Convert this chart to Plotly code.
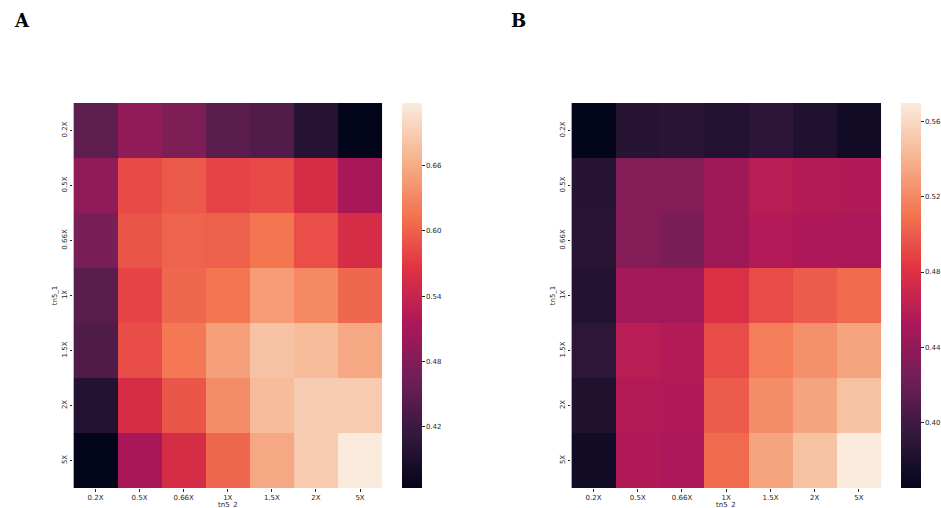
import plotly.graph_objects as go

# Tn5 dilution levels for the two transposase preparations
tn5_2_levels = ["0.2X", "0.5X", "0.66X", "1X", "1.5X", "2X", "5X"]
tn5_1_levels = ["0.2X", "0.5X", "0.66X", "1X", "1.5X", "2X", "5X"]

# Panel A scores (rows: tn5_1, columns: tn5_2)
scores_a = [
    [0.449, 0.491, 0.477, 0.446, 0.438, 0.399, 0.364],
    [0.491, 0.584, 0.594, 0.578, 0.584, 0.555, 0.511],
    [0.473, 0.591, 0.602, 0.600, 0.616, 0.587, 0.555],
    [0.444, 0.578, 0.605, 0.616, 0.647, 0.632, 0.605],
    [0.437, 0.585, 0.618, 0.650, 0.680, 0.674, 0.657],
    [0.396, 0.555, 0.591, 0.634, 0.674, 0.689, 0.688],
    [0.364, 0.511, 0.555, 0.605, 0.657, 0.688, 0.717],
]

# Panel B scores (rows: tn5_1, columns: tn5_2)
scores_b = [
    [0.365, 0.386, 0.388, 0.383, 0.389, 0.3825, 0.374],
    [0.386, 0.433, 0.433, 0.446, 0.459, 0.457, 0.455],
    [0.387, 0.433, 0.429, 0.446, 0.456, 0.454, 0.452],
    [0.384, 0.448, 0.448, 0.478, 0.493, 0.4995, 0.506],
    [0.390, 0.459, 0.457, 0.493, 0.515, 0.524, 0.533],
    [0.382, 0.457, 0.455, 0.4995, 0.522, 0.533, 0.548],
    [0.374, 0.455, 0.452, 0.506, 0.533, 0.548, 0.570],
]

cbar_ticks_a = [0.42, 0.48, 0.54, 0.60, 0.66]
cbar_ticks_b = [0.40, 0.44, 0.48, 0.52, 0.56]

# seaborn "rocket" colormap
rocket = [
    [0.0, "#03051a"],
    [1 / 7, "#35193e"],
    [2 / 7, "#701f57"],
    [3 / 7, "#ad1759"],
    [4 / 7, "#e13342"],
    [5 / 7, "#f37651"],
    [6 / 7, "#f6b48f"],
    [1.0, "#faebdd"],
]

W, H = 941, 508
top, bottom = 103, 488
font = dict(family="DejaVu Sans", size=7, color="#262626")

panels = [
    dict(z=scores_a, ticks=cbar_ticks_a, x0=73.5, x1=382.5, cb=402, xa="x", ya="y"),
    dict(z=scores_b, ticks=cbar_ticks_b, x0=572, x1=882, cb=901, xa="x2", ya="y2"),
]

fig = go.Figure()
for p in panels:
    fig.add_trace(go.Heatmap(
        z=p["z"], x=tn5_2_levels, y=tn5_1_levels,
        colorscale=rocket, xaxis=p["xa"], yaxis=p["ya"],
        colorbar=dict(
            x=p["cb"] / W, xanchor="left", xpad=0,
            y=1 - (top + bottom) / 2 / H, yanchor="middle", ypad=0,
            thickness=20, thicknessmode="pixels",
            len=bottom - top, lenmode="pixels",
            outlinewidth=0, tickvals=p["ticks"], tickformat=".2f",
            ticks="outside", ticklen=3, tickwidth=0.8, tickcolor="#262626",
            tickfont=font,
        ),
    ))

ydom = [1 - bottom / H, 1 - top / H]
axis_common = dict(showgrid=False, zeroline=False, showline=False, automargin=False,
                   ticks="outside", ticklen=2.5, tickwidth=0.8, tickcolor="#262626",
                   tickfont=font)
for i, p in enumerate(panels):
    suffix = "" if i == 0 else "2"
    fig.update_layout(**{
        "xaxis" + suffix: dict(domain=[p["x0"] / W, p["x1"] / W], anchor="y" + suffix,
                               **axis_common),
        "yaxis" + suffix: dict(domain=ydom, anchor="x" + suffix, autorange="reversed",
                               tickangle=-90,
                               title=dict(text="tn5_1", font=font, standoff=2),
                               **axis_common),
    })
    # x-axis title placed just under the tick labels
    fig.add_annotation(text="tn5_2", x=(p["x0"] + p["x1"]) / 2 / W, y=1 - 505 / H,
                       xref="paper", yref="paper", xanchor="center", yanchor="middle",
                       showarrow=False, font=font)

for label, xpix in [("A", 12), ("B", 510)]:
    fig.add_annotation(text="<b>" + label + "</b>", x=xpix / W, y=1 - 20 / H,
                       xref="paper", yref="paper", xanchor="left", yanchor="middle",
                       showarrow=False,
                       font=dict(family="DejaVu Serif", size=18, color="black"))

fig.update_layout(width=W, height=H, margin=dict(l=0, r=0, t=0, b=0),
                  paper_bgcolor="white", plot_bgcolor="white", showlegend=False)

fig.write_html("out.html")
